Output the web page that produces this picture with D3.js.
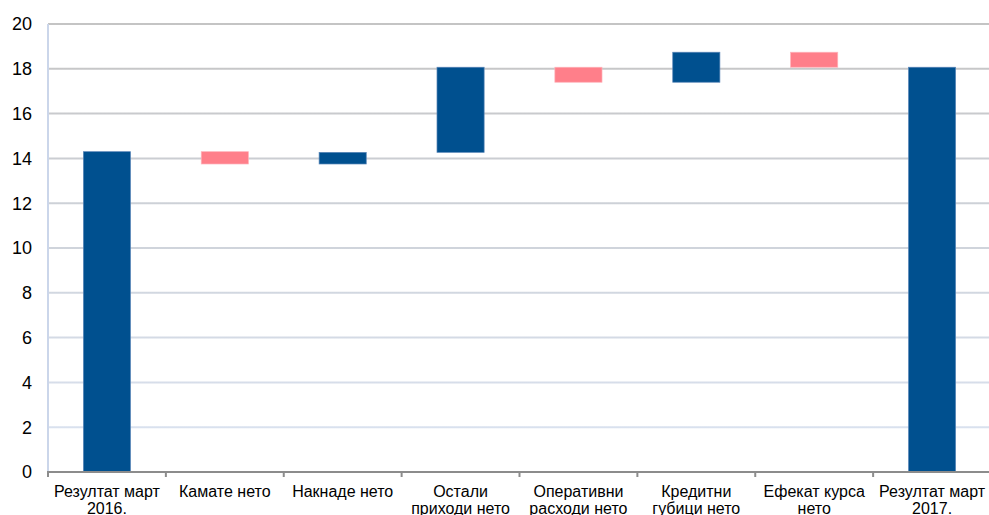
<!DOCTYPE html>
<html lang="sr">
<head>
<meta charset="utf-8">
<title>Waterfall</title>
<script src="https://d3js.org/d3.v7.min.js"></script>
<style>
  body { margin: 0; background: #fff; }
  svg { display: block; font-family: "Liberation Sans", Arial, sans-serif; }
</style>
</head>
<body>
<script>
// categories (second line of label after "|")
var categories = ["Резултат март|2016.", "Камате нето", "Накнаде нето", "Остали|приходи нето",
                  "Оперативни|расходи нето", "Кредитни|губици нето", "Ефекат курса|нето", "Резултат март|2017."];
// bar bottom / top values
var lows  = [0,    13.75, 13.75, 14.27, 17.40, 17.40, 18.07, 0];
var highs = [14.3, 14.30, 14.27, 18.07, 18.07, 18.74, 18.74, 18.07];
// kind: total / up / down
var kinds = ["total", "down", "up", "up", "down", "up", "down", "total"];
var yTicks = [0, 2, 4, 6, 8, 10, 12, 14, 16, 18, 20];

var W = 989, H = 515;
var m = {left: 48, right: -2, top: 24, bottom: 43};

var svg = d3.select("body").append("svg").attr("width", W).attr("height", H);

var x = d3.scaleBand().domain(d3.range(categories.length))
  .range([m.left, W - m.right]).paddingInner(0).paddingOuter(0);
var y = d3.scaleLinear().domain([0, 20]).range([H - m.bottom, m.top]);

// gridline gradient gray -> light blue
var grad = svg.append("defs").append("linearGradient")
  .attr("id", "gg").attr("gradientUnits", "userSpaceOnUse")
  .attr("x1", 0).attr("x2", 0).attr("y1", y(20)).attr("y2", y(0));
grad.append("stop").attr("offset", "0%").attr("stop-color", "#c4c4c4");
grad.append("stop").attr("offset", "100%").attr("stop-color", "#dbe4f3");

svg.append("g").selectAll("line").data(yTicks.filter(function(d){ return d > 0; }))
  .enter().append("line")
  .attr("x1", m.left).attr("x2", W - m.right)
  .attr("y1", function(d){ return y(d); }).attr("y2", function(d){ return y(d); })
  .attr("stroke", "url(#gg)").attr("stroke-width", 2);

// y axis line
svg.append("line").attr("x1", m.left).attr("x2", m.left)
  .attr("y1", y(20)).attr("y2", y(0))
  .attr("stroke", "#cbd6ea").attr("stroke-width", 2);

// y labels
svg.append("g").selectAll("text").data(yTicks).enter().append("text")
  .attr("x", 32).attr("y", function(d){ return y(d); })
  .attr("dy", "0.36em").attr("text-anchor", "end")
  .attr("font-size", 18).attr("fill", "#000")
  .text(function(d){ return d; });

// bars
var colors = {total: "#00508f", up: "#00508f", down: "#ff7f8a"};
var strokes = {total: "#5a86b8", up: "#5a86b8", down: "#ffb3ba"};
var bw = x.bandwidth() * 0.4;
svg.append("g").selectAll("rect").data(categories).enter().append("rect")
  .attr("x", function(d, i){ return x(i) + (x.bandwidth() - bw) / 2; })
  .attr("width", bw)
  .attr("y", function(d, i){ return y(highs[i]); })
  .attr("height", function(d, i){ return y(lows[i]) - y(highs[i]); })
  .attr("fill", function(d, i){ return colors[kinds[i]]; })
  .attr("stroke", function(d, i){ return strokes[kinds[i]]; })
  .attr("stroke-width", 0.7);

// x axis
var xa = svg.append("g");
xa.append("line").attr("x1", m.left - 1).attr("x2", W - m.right)
  .attr("y1", y(0)).attr("y2", y(0))
  .attr("stroke", "#8c8c8c").attr("stroke-width", 2);
xa.selectAll("line.tick").data(d3.range(categories.length + 1)).enter().append("line")
  .attr("class", "tick")
  .attr("x1", function(i){ return m.left + i * x.bandwidth(); })
  .attr("x2", function(i){ return m.left + i * x.bandwidth(); })
  .attr("y1", y(0)).attr("y2", y(0) + 5)
  .attr("stroke", "#8c8c8c").attr("stroke-width", 2);

var lbl = xa.selectAll("text").data(categories).enter().append("text")
  .attr("x", function(d, i){ return x(i) + x.bandwidth() / 2; })
  .attr("y", 497).attr("text-anchor", "middle")
  .attr("font-size", 16).attr("fill", "#000");
lbl.each(function(d){
  var t = d3.select(this), cx = t.attr("x");
  d.split("|").forEach(function(s, k){
    t.append("tspan").attr("x", cx).attr("dy", k ? 17 : 0).text(s);
  });
});
</script>
</body>
</html>
